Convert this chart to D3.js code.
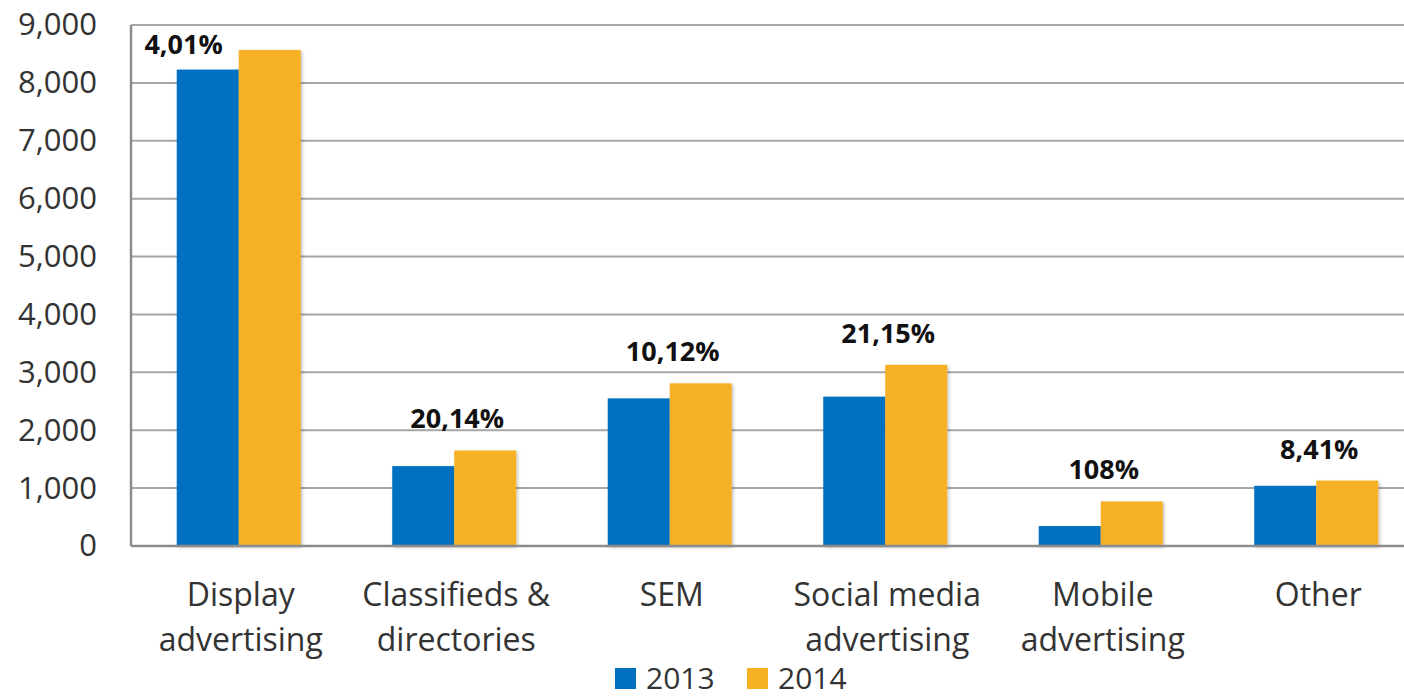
<!DOCTYPE html>
<html>
<head>
<meta charset="utf-8">
<script src="https://cdn.jsdelivr.net/npm/d3@7/dist/d3.min.js"></script>
<style>
  html, body { margin: 0; padding: 0; background: #fff; }
  svg { display: block; }
  text { font-family: "Open Sans", "Noto Sans", sans-serif; }
</style>
</head>
<body>
<svg id="chart" width="1404" height="698"></svg>
<script>
const categories = [
  ["Display", "advertising"],
  ["Classifieds &", "directories"],
  ["SEM"],
  ["Social media", "advertising"],
  ["Mobile", "advertising"],
  ["Other"]
];
const seriesNames = ["2013", "2014"];
const values2013 = [8230, 1380, 2550, 2580, 345, 1040];
const values2014 = [8570, 1650, 2810, 3130, 770, 1130];
const growthLabels = ["4,01%", "20,14%", "10,12%", "21,15%", "108%", "8,41%"];
const yTicks = [0, 1000, 2000, 3000, 4000, 5000, 6000, 7000, 8000, 9000];

const colors = ["#0070C0", "#F6B125"];
const svg = d3.select("#chart");

const plot = { left: 131, right: 1424, top: 25, bottom: 546 };
const keys = categories.map(c => c.join(" "));

const y = d3.scaleLinear().domain([0, 9000]).range([plot.bottom, plot.top]);
const p = 0.4246;
const x0 = d3.scaleBand().domain(keys).range([plot.left, plot.right])
  .paddingInner(p).paddingOuter(p / 2);
const x1 = d3.scaleBand().domain(seriesNames).range([0, x0.bandwidth()]);

const defs = svg.append("defs");
const f = defs.append("filter").attr("id", "shadow")
  .attr("x", "-10%").attr("y", "-10%").attr("width", "130%").attr("height", "130%");
f.append("feDropShadow").attr("dx", 1.5).attr("dy", 1.5)
  .attr("stdDeviation", 1.5).attr("flood-color", "#000").attr("flood-opacity", 0.25);

// gridlines
svg.append("g").selectAll("line").data(yTicks.filter(t => t > 0)).join("line")
  .attr("x1", plot.left).attr("x2", 1404)
  .attr("y1", d => y(d)).attr("y2", d => y(d))
  .attr("stroke", "#A6A6A6").attr("stroke-width", 2);

// y axis labels
const yAxis = d3.axisLeft(y).tickValues(yTicks).tickSize(0).tickPadding(34)
  .tickFormat(d3.format(","));
const gy = svg.append("g").attr("transform", `translate(${plot.left},0)`).call(yAxis);
gy.select(".domain").remove();
gy.selectAll("text").attr("font-size", 31).attr("fill", "#333")
  .attr("font-family", "'Open Sans', sans-serif");

// bars
const rows = keys.map((k, i) => ({ key: k, vals: [values2013[i], values2014[i]], label: growthLabels[i] }));
const groups = svg.append("g").selectAll("g").data(rows).join("g")
  .attr("transform", d => `translate(${x0(d.key)},0)`);
groups.selectAll("rect").data(d => d.vals.map((v, j) => ({ s: seriesNames[j], v, j }))).join("rect")
  .attr("x", d => x1(d.s)).attr("width", x1.bandwidth())
  .attr("y", d => y(d.v)).attr("height", d => y(0) - y(d.v))
  .attr("fill", d => colors[d.j]).attr("filter", "url(#shadow)");

// axis lines
svg.append("line").attr("x1", plot.left).attr("x2", 1404)
  .attr("y1", plot.bottom).attr("y2", plot.bottom)
  .attr("stroke", "#8C8C8C").attr("stroke-width", 2.5);
svg.append("line").attr("x1", plot.left).attr("x2", plot.left)
  .attr("y1", plot.top).attr("y2", plot.bottom)
  .attr("stroke", "#8C8C8C").attr("stroke-width", 2.5);

// growth labels
groups.append("text")
  .attr("font-weight", "bold").attr("font-size", 27).attr("fill", "#111")
  .each(function(d) {
    const top = y(d3.max(d.vals));
    let by = top - 22;
    const t = d3.select(this);
    if (by < 54) {
      t.attr("x", x1("2013") + x1.bandwidth() - 16).attr("y", 54).attr("text-anchor", "end");
    } else {
      t.attr("x", x0.bandwidth() / 2 + 3).attr("y", by).attr("text-anchor", "middle");
    }
  })
  .text(d => d.label);

// category labels
const catG = svg.append("g").selectAll("text").data(categories).join("text")
  .attr("text-anchor", "middle").attr("font-size", 32).attr("fill", "#333")
  .attr("x", (d, i) => x0(keys[i]) + x0.bandwidth() / 2 + 2)
  .attr("y", 606);
catG.selectAll("tspan").data(d => d).join("tspan")
  .attr("x", function() { return d3.select(this.parentNode).attr("x"); })
  .attr("dy", (d, i) => i === 0 ? 0 : 45)
  .text(d => d);

// legend
const legend = svg.append("g").attr("transform", "translate(615,668)");
const li = legend.selectAll("g").data(seriesNames).join("g")
  .attr("transform", (d, i) => `translate(${i * 132},0)`);
li.append("rect").attr("width", 21).attr("height", 21).attr("fill", (d, i) => colors[i]);
li.append("text").attr("x", 31).attr("y", 21).attr("font-size", 30).attr("fill", "#333")
  .text(d => d);
</script>
</body>
</html>
